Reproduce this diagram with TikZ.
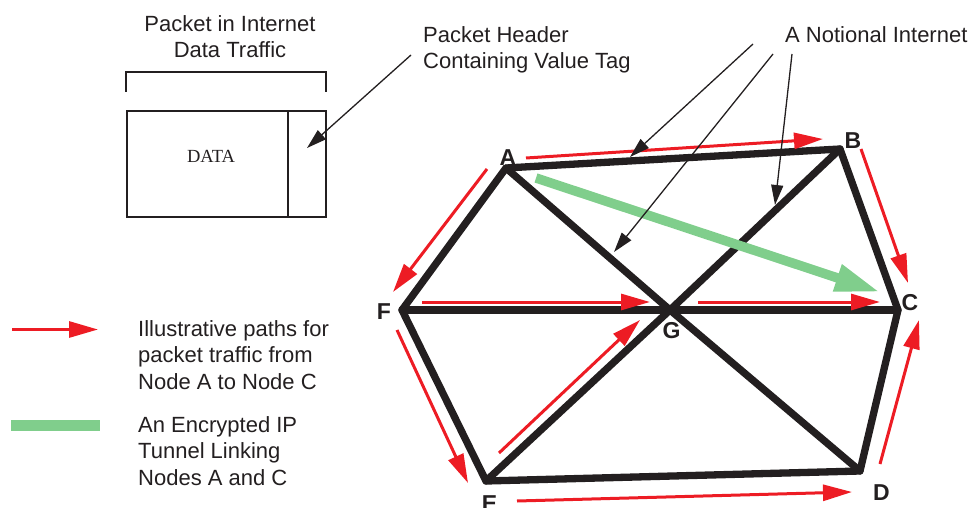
\documentclass[tikz,border=0pt]{standalone}
\usepackage{fontspec}
\setmainfont{Liberation Sans}
\newfontfamily\serifface{Liberation Serif}
\usetikzlibrary{arrows.meta}
\definecolor{ink}{RGB}{35,31,32}
\definecolor{pathred}{RGB}{237,28,36}
\definecolor{tunnelgreen}{RGB}{128,206,140}

\begin{document}
\begin{tikzpicture}[x=1pt,y=-1pt,
  link/.style={ink, line width=7.3pt, line join=round, line cap=round},
  route/.style={pathred, line width=3pt, -{Triangle[length=29pt 0 0,width=16pt 0]}},
  pointer/.style={ink, line width=1.3pt, -{Triangle[length=20pt 0 0,width=12pt 0]}},
  tunnel/.style={tunnelgreen, line width=9.5pt, -{Triangle[length=45pt 0 0,width=26pt 0]}},
  thin/.style={ink, line width=1.3pt},
  caption/.style={font=\fontsize{22}{26.5}\selectfont, text=ink, inner sep=0pt},
  vertex/.style={font=\fontsize{23}{26}\selectfont\bfseries, text=ink, inner sep=0pt},
]
\useasboundingbox (0,0) rectangle (975,508);

% ---- packet sketch ----
\draw[thin] (126,92) -- (126,72) -- (326,72) -- (326,92);
\draw[thin] (127,111) rectangle (326,217);
\draw[thin] (288,111) -- (288,217);
\node[font=\serifface\fontsize{18.5}{20}\selectfont, text=ink, inner sep=0pt] (data) at (211,156) {DATA};
\coordinate (hdr) at (307,148);

\node[caption, align=center, anchor=north] (pkt) at (230,15) {Packet in Internet\\Data Traffic};
\node[caption, align=left, anchor=north west] (hdrtxt) at (423,26) {Packet Header\\Containing Value Tag};
\node[caption, anchor=north west] (net) at (785,26) {A Notional Internet};

% ---- network vertices ----
\coordinate (A) at (506,168);
\coordinate (B) at (840,149);
\coordinate (C) at (898,310);
\coordinate (D) at (860,471);
\coordinate (E) at (486,481);
\coordinate (F) at (402,310);
\coordinate (G) at (670,310);

% ---- links ----
\draw[link] (A) -- (B) -- (C) -- (D) -- (E) -- (F) -- cycle;
\draw[link] (A) -- (G) -- (D);
\draw[link] (B) -- (G) -- (E);
\draw[link] (F) -- (G) -- (C);

% ---- encrypted tunnel A to C (drawn over the links) ----
\coordinate (tA) at (536,178);
\coordinate (tC) at (880,292);
\draw[tunnel] (tA) -- (tC);

% ---- vertex labels ----
\node[vertex] (lA) at (508,158) {A};
\node[vertex] (lB) at (853,140.5) {B};
\node[vertex] (lC) at (910,303) {C};
\node[vertex] (lD) at (881.5,493) {D};
\node[vertex] (lE) at (489.5,503.5) {E};
\node[vertex] (lF) at (384,311.5) {F};
\node[vertex] (lG) at (671.5,330.5) {G};

% ---- packet routes A to C ----
\coordinate (r1s) at (526,158);   \coordinate (r1e) at (823,139);
\coordinate (r2s) at (861,149);   \coordinate (r2e) at (908,283);
\coordinate (r3s) at (487,169);   \coordinate (r3e) at (393,292);
\coordinate (r4s) at (422,302);   \coordinate (r4e) at (650,302);
\coordinate (r5s) at (698,302);   \coordinate (r5e) at (880,302);
\coordinate (r6s) at (397,330);   \coordinate (r6e) at (468,483);
\coordinate (r7s) at (499,453);   \coordinate (r7e) at (640,320);
\coordinate (r8s) at (517,501);   \coordinate (r8e) at (852,492);
\coordinate (r9s) at (880,464);   \coordinate (r9e) at (919,320);
\foreach \i in {1,...,9} \draw[route] (r\i s) -- (r\i e);

% ---- pointers from captions ----
\coordinate (h0) at (411,55);
\draw[pointer] (h0) -- (hdr);
\coordinate (n1s) at (753,44);  \coordinate (n1e) at (630,157);
\coordinate (n2s) at (773,54);  \coordinate (n2e) at (614,252);
\coordinate (n3s) at (792,54);  \coordinate (n3e) at (775,205);
\draw[pointer] (n1s) -- (n1e);
\draw[pointer] (n2s) -- (n2e);
\draw[pointer] (n3s) -- (n3e);

% ---- legend ----
\coordinate (k1s) at (12,329.5); \coordinate (k1e) at (98,329.5);
\draw[route] (k1s) -- (k1e);
\fill[tunnelgreen] (11,420) rectangle (100,430.5);
\node[caption, align=left, anchor=north west] (k1txt) at (138,320) {Illustrative paths for\\packet traffic from\\Node A to Node C};
\node[caption, align=left, anchor=north west] (k2txt) at (138,416) {An Encrypted IP\\Tunnel Linking\\Nodes A and C};
\end{tikzpicture}
\end{document}
